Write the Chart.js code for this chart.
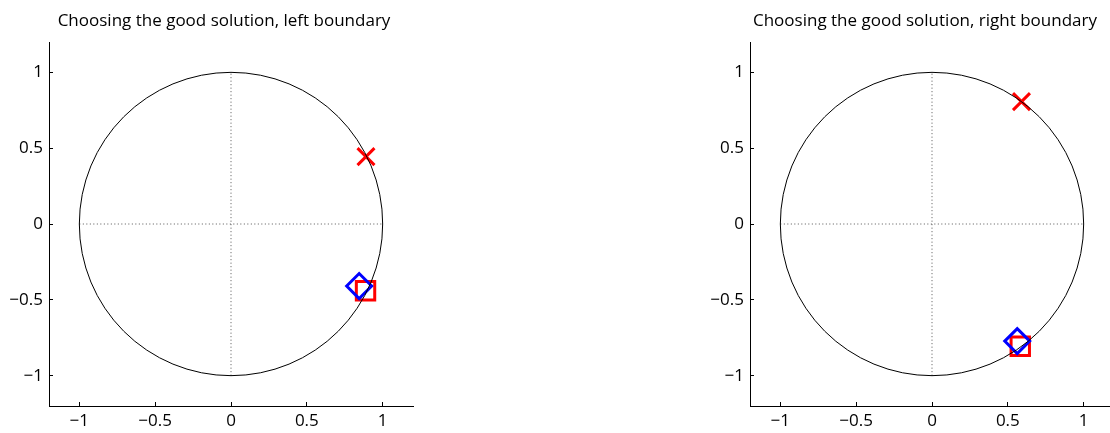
<!DOCTYPE html>
<html><head><meta charset="utf-8">
<script src="https://cdn.jsdelivr.net/npm/chart.js@4"></script>
<style>html,body{margin:0;padding:0;background:#fff;overflow:hidden;width:1110px;height:433px;position:relative}
.box{position:absolute;top:0;height:433px}
#b1{left:0;width:448px}
#b2{left:700px;width:450px}
</style>
</head><body>
<div class="box" id="b1"><canvas id="c1"></canvas></div>
<div class="box" id="b2"><canvas id="c2"></canvas></div>
<script>
// ---- data ----
const titles = ['Choosing the good solution, left boundary', 'Choosing the good solution, right boundary'];
const axisMin = -1.2;
const axisMax = 1.2;
const tickValues = [-1, -0.5, 0, 0.5, 1];
const tickLabels = ['\u22121', '\u22120.5', '0', '0.5', '1'];
const circleCenter = [0, 0];
const circleRadius = 1;
const hAxisLine = [{x: -1, y: 0}, {x: 1, y: 0}];
const vAxisLine = [{x: 0, y: -1}, {x: 0, y: 1}];
const leftCross = [{x: 0.89, y: 0.444}];
const leftDiamond = [{x: 0.845, y: -0.409}];
const leftSquare = [{x: 0.887, y: -0.44}];
const rightCross = [{x: 0.59, y: 0.807}];
const rightDiamond = [{x: 0.562, y: -0.772}];
const rightSquare = [{x: 0.582, y: -0.806}];

const FONT = '"Open Sans", sans-serif';

const circlePlugin = {
  id: 'unitCircle',
  afterDatasetsDraw(chart) {
    const {ctx, scales: {x, y}} = chart;
    const cx = x.getPixelForValue(circleCenter[0]);
    const cy = y.getPixelForValue(circleCenter[1]);
    const rx = Math.abs(x.getPixelForValue(circleCenter[0] + circleRadius) - cx);
    const ry = Math.abs(y.getPixelForValue(circleCenter[1] + circleRadius) - cy);
    ctx.save();
    ctx.beginPath();
    ctx.ellipse(cx, cy, rx, ry, 0, 0, Math.PI * 2);
    ctx.strokeStyle = '#000';
    ctx.lineWidth = 1;
    ctx.stroke();
    ctx.restore();
  }
};

function makeChart(id, title, cross, diamond, square, yWidth, rightGap) {
  const axisBase = {
    type: 'linear', min: axisMin, max: axisMax,
    afterBuildTicks: s => { s.ticks = tickValues.map(v => ({value: v})); },
    border: {display: true, color: '#000', width: 1},
    grid: {display: true, drawOnChartArea: false, drawTicks: true, tickLength: -4, color: '#000', lineWidth: 1},
    ticks: {
      color: '#000', font: {family: FONT, size: 17},
      callback: v => { const i = tickValues.indexOf(v); return i >= 0 ? tickLabels[i] : ''; }
    }
  };
  return new Chart(document.getElementById(id), {
    type: 'scatter',
    data: {
      datasets: [
        {type: 'line', data: hAxisLine, borderColor: '#555', borderWidth: 1, borderDash: [1, 2.5], pointRadius: 0, fill: false, xAxisID: 'x', yAxisID: 'y'},
        {type: 'line', data: vAxisLine, borderColor: '#555', borderWidth: 1, borderDash: [1, 2.5], pointRadius: 0, fill: false, xAxisID: 'x', yAxisID: 'y'},
        {data: diamond, pointStyle: 'rectRot', pointRadius: 12.5, borderColor: '#0000ff', backgroundColor: 'rgba(0,0,0,0)', pointBorderWidth: 3, xAxisID: 'x', yAxisID: 'y'},
        {data: square, pointStyle: 'rect', pointRadius: 13, borderColor: '#ff0000', backgroundColor: 'rgba(0,0,0,0)', pointBorderWidth: 3, xAxisID: 'x', yAxisID: 'y'},
        {data: cross, pointStyle: 'crossRot', pointRadius: 12, borderColor: '#ff0000', backgroundColor: 'rgba(0,0,0,0)', pointBorderWidth: 3, xAxisID: 'x', yAxisID: 'y'}
      ]
    },
    options: {
      responsive: true, maintainAspectRatio: false, animation: false,
      layout: {padding: 0},
      plugins: {
        legend: {display: false}, tooltip: {enabled: false},
        title: {display: true, text: title, color: '#000', font: {family: FONT, size: 17, weight: 'normal'},
                padding: {top: 11, bottom: 10.6}}
      },
      scales: {
        x: Object.assign({}, axisBase, {position: 'bottom',
          ticks: Object.assign({}, axisBase.ticks, {padding: 9, maxRotation: 0}),
          afterFit: s => { s.height = 27; }}),
        y: Object.assign({}, axisBase, {position: 'left',
          ticks: Object.assign({}, axisBase.ticks, {padding: 10}),
          afterFit: s => { s.width = yWidth; }}),
        gap: {axis: 'y', type: 'linear', position: 'right', display: true,
          grid: {display: false}, border: {display: false}, ticks: {display: false},
          afterFit: s => { s.width = rightGap; }}
      }
    },
    plugins: [circlePlugin]
  });
}

makeChart('c1', titles[0], leftCross, leftDiamond, leftSquare, 49, 35);
makeChart('c2', titles[1], rightCross, rightDiamond, rightSquare, 50, 36);
</script></body></html>
